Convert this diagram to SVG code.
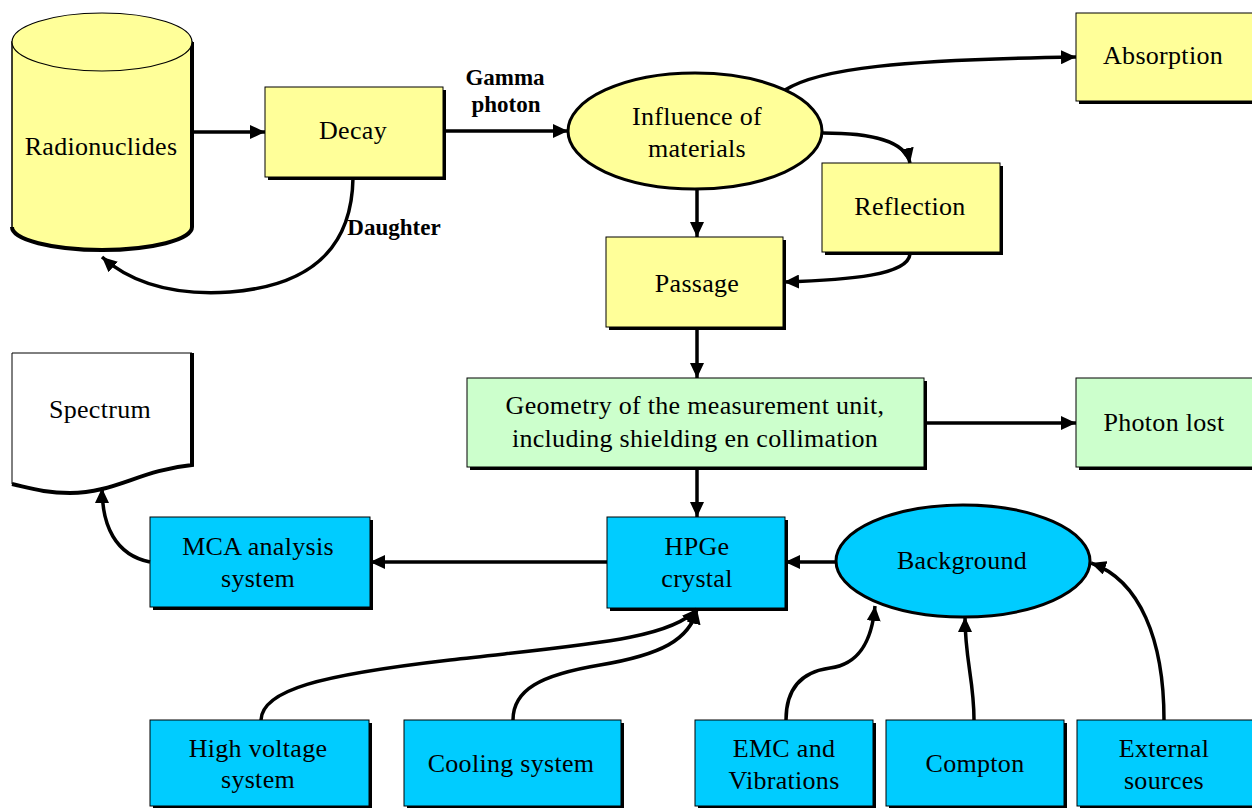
<svg xmlns="http://www.w3.org/2000/svg" width="1252" height="808" viewBox="0 0 1252 808">
<defs>
<style>
.t{font-family:'Liberation Serif',serif;font-size:26px;fill:#000;text-anchor:middle;letter-spacing:0.3px}
.b{font-family:'Liberation Serif',serif;font-size:23px;font-weight:bold;fill:#000;text-anchor:middle}
.sh{fill:#000}
.y{fill:#FFFF99;stroke:#000;stroke-width:1}
.g{fill:#CCFFCC;stroke:#000;stroke-width:1}
.c{fill:#00CCFF;stroke:#000;stroke-width:1}
.w{fill:#FFFFFF;stroke:#000;stroke-width:1}
.e{stroke:#000;stroke-width:3}
.ln{fill:none;stroke:#000;stroke-width:3.5;marker-end:url(#ah)}
</style>
<marker id="ah" markerUnits="userSpaceOnUse" markerWidth="16" markerHeight="14" refX="15" refY="7" orient="auto">
<path d="M0,0 L15,7 L0,14 z" fill="#000"/>
</marker>
</defs>
<rect width="1252" height="808" fill="#fff"/>

<g id="radionuclides">
<path d="M12,42 L12,227 A90,23 0 0 0 192,227 L192,42 Z" fill="#FFFF99" stroke="#000" stroke-width="1.5"/>
<path d="M12,227 A90,23 0 0 0 192,227 L192,42" fill="none" stroke="#000" stroke-width="4"/>
<ellipse cx="102" cy="42" rx="90" ry="29" fill="#FFFF99" stroke="#000" stroke-width="1.2"/>
<text class="t" x="101" y="155">Radionuclides</text>
</g>

<g id="decay">
<rect class="sh" x="268" y="90" width="178" height="90"/>
<rect class="y" x="265" y="87" width="178" height="90"/>
<text class="t" x="353" y="139">Decay</text>
</g>

<g id="influence">
<ellipse class="e" cx="695" cy="131" rx="127" ry="58" fill="#FFFF99"/>
<text class="t" x="697" y="125">Influence of</text>
<text class="t" x="697" y="157">materials</text>
</g>

<g id="absorption">
<rect class="sh" x="1079" y="16" width="180" height="88"/>
<rect class="y" x="1076" y="13" width="180" height="88"/>
<text class="t" x="1163" y="64">Absorption</text>
</g>

<g id="reflection">
<rect class="sh" x="825" y="166" width="178" height="89"/>
<rect class="y" x="822" y="163" width="178" height="89"/>
<text class="t" x="910" y="215">Reflection</text>
</g>

<g id="passage">
<rect class="sh" x="609" y="240" width="177" height="90"/>
<rect class="y" x="606" y="237" width="177" height="90"/>
<text class="t" x="697" y="292">Passage</text>
</g>

<g id="geometry">
<rect class="sh" x="470" y="381" width="457" height="89"/>
<rect class="g" x="467" y="378" width="457" height="89"/>
<text class="t" x="695" y="414">Geometry of the measurement unit,</text>
<text class="t" x="695" y="447">including shielding en collimation</text>
</g>

<g id="photonlost">
<rect class="sh" x="1079" y="381" width="180" height="89"/>
<rect class="g" x="1076" y="378" width="180" height="89"/>
<text class="t" x="1164" y="431">Photon lost</text>
</g>

<g id="spectrum">
<path d="M12,353 L192,353 L192,465 C140,470 115,493 70,493 C45,493 30,488 12,484 Z" class="w"/>
<path d="M192,353 L192,465 C140,470 115,493 70,493 C45,493 30,488 12,484" fill="none" stroke="#000" stroke-width="4"/>
<text class="t" x="100" y="418">Spectrum</text>
</g>

<g id="mca">
<rect class="sh" x="153" y="520" width="220" height="90"/>
<rect class="c" x="150" y="517" width="220" height="90"/>
<text class="t" x="258" y="555">MCA analysis</text>
<text class="t" x="258" y="587">system</text>
</g>

<g id="hpge">
<rect class="sh" x="610" y="520" width="178" height="91"/>
<rect class="c" x="607" y="517" width="178" height="91"/>
<text class="t" x="697" y="555">HPGe</text>
<text class="t" x="697" y="587">crystal</text>
</g>

<g id="background">
<ellipse class="e" cx="963" cy="561" rx="127" ry="56" fill="#00CCFF"/>
<text class="t" x="962" y="569">Background</text>
</g>

<g id="highvoltage">
<rect class="sh" x="153" y="723" width="219" height="86"/>
<rect class="c" x="150" y="720" width="219" height="86"/>
<text class="t" x="258" y="757">High voltage</text>
<text class="t" x="258" y="788">system</text>
</g>

<g id="cooling">
<rect class="sh" x="407" y="723" width="217" height="86"/>
<rect class="c" x="404" y="720" width="217" height="86"/>
<text class="t" x="511" y="772">Cooling system</text>
</g>

<g id="emc">
<rect class="sh" x="698" y="723" width="178" height="86"/>
<rect class="c" x="695" y="720" width="178" height="86"/>
<text class="t" x="784" y="757">EMC and</text>
<text class="t" x="784" y="789">Vibrations</text>
</g>

<g id="compton">
<rect class="sh" x="889" y="723" width="178" height="86"/>
<rect class="c" x="886" y="720" width="178" height="86"/>
<text class="t" x="975" y="772">Compton</text>
</g>

<g id="external">
<rect class="sh" x="1080" y="723" width="180" height="86"/>
<rect class="c" x="1077" y="720" width="180" height="86"/>
<text class="t" x="1164" y="757">External</text>
<text class="t" x="1164" y="789">sources</text>
</g>

<g id="connectors">
<path class="ln" d="M192,132 L265,132"/>
<path class="ln" d="M446,131 L568,131"/>
<path class="ln" d="M353,178 C352,240 320,285 230,292 C170,296 130,282 102,257"/>
<path class="ln" d="M785,90 C820,68 900,60 1076,57"/>
<path class="ln" d="M823,133 C870,133 905,140 910,163"/>
<path class="ln" d="M910,254 C908,275 850,280 784,282"/>
<path class="ln" d="M697,190 L697,237"/>
<path class="ln" d="M697,329 L697,378"/>
<path class="ln" d="M924,423 L1076,423"/>
<path class="ln" d="M697,469 L697,517"/>
<path class="ln" d="M607,562 L370,562"/>
<path class="ln" d="M836,562 L785,562"/>
<path class="ln" d="M150,562 C115,555 102,525 102,488"/>
<path class="ln" d="M261,720 C262,690 320,675 450,660 C580,645 670,640 697,609"/>
<path class="ln" d="M513,720 C513,690 540,675 600,665 C660,655 690,640 697,609"/>
<path class="ln" d="M786,720 C786,690 800,672 830,668 C860,664 872,640 875,606"/>
<path class="ln" d="M974,720 C974,680 965,660 965,617"/>
<path class="ln" d="M1164,720 C1164,640 1140,580 1091,563"/>
<text class="b" x="505" y="85">Gamma</text>
<text class="b" x="506" y="112">photon</text>
<text class="b" x="394" y="235">Daughter</text>
</g>
</svg>
